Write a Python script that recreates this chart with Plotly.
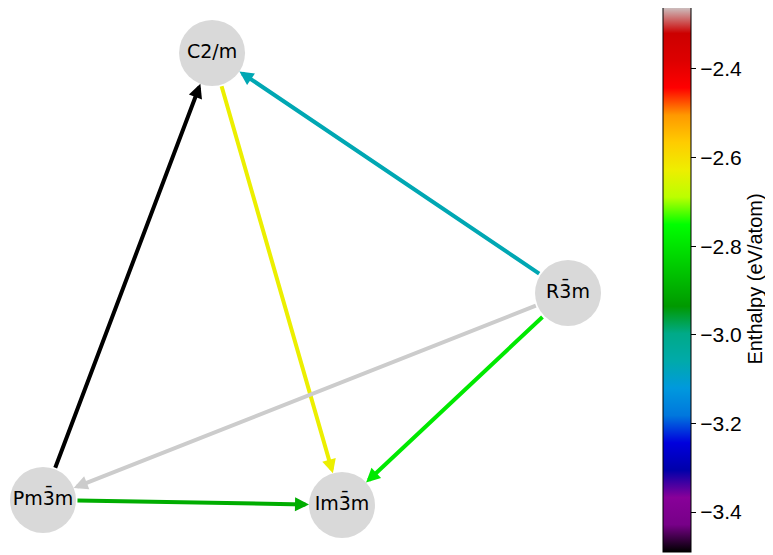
import plotly.graph_objects as go

# node layout (spring-layout style coordinates)
node_names = ["C2/m", "R3̄m", "Pm3̄m", "Im3̄m"]
node_x = [-0.356, 1.0, -1.0, 0.139]
node_y = [1.0, -0.062, -0.978, -1.0]

# directed edges and their enthalpies (eV/atom)
edge_src = ["Pm3̄m", "C2/m", "R3̄m", "R3̄m", "R3̄m", "Pm3̄m"]
edge_dst = ["C2/m", "Im3̄m", "C2/m", "Pm3̄m", "Im3̄m", "Im3̄m"]
edge_enthalpy = [-3.49, -2.63, -3.07, -2.258, -2.79, -2.90]

cbar_ticks = [-2.4, -2.6, -2.8, -3.0, -3.2, -3.4]

# matplotlib nipy_spectral segment data
stops = [i * 0.05 for i in range(21)]
reds = [0.0, 0.4667, 0.5333, 0.0, 0.0, 0.0, 0.0, 0.0, 0.0, 0.0, 0.0,
        0.0, 0.0, 0.7333, 0.9333, 1.0, 1.0, 1.0, 0.8667, 0.80, 0.80]
greens = [0.0, 0.0, 0.0, 0.0, 0.0, 0.4667, 0.6, 0.6667, 0.6667, 0.6, 0.7333,
          0.8667, 1.0, 1.0, 0.9333, 0.8, 0.6, 0.0, 0.0, 0.0, 0.80]
blues = [0.0, 0.5333, 0.6, 0.6667, 0.8667, 0.8667, 0.8667, 0.6667, 0.5333, 0.0, 0.0,
         0.0, 0.0, 0.0, 0.0, 0.0, 0.0, 0.0, 0.0, 0.0, 0.80]

def rgb(r, g, b):
    return "rgb(%d,%d,%d)" % (round(r * 255), round(g * 255), round(b * 255))

colorscale = [[s, rgb(r, g, b)] for s, r, g, b in zip(stops, reds, greens, blues)]

vmin, vmax = min(edge_enthalpy), max(edge_enthalpy)

def cmap(v):
    t = (v - vmin) / (vmax - vmin)
    t = min(max(t, 0.0), 1.0)
    for i in range(len(stops) - 1):
        if stops[i] <= t <= stops[i + 1]:
            f = (t - stops[i]) / (stops[i + 1] - stops[i])
            return rgb(*[c[i] + f * (c[i + 1] - c[i]) for c in (reds, greens, blues)])
    return rgb(reds[-1], greens[-1], blues[-1])

idx = {n: i for i, n in enumerate(node_names)}

fig = go.Figure()

# node circles
fig.add_trace(go.Scatter(
    x=node_x, y=node_y, mode="markers+text",
    text=node_names, textposition="middle center",
    textfont=dict(family="DejaVu Sans", size=19, color="black"),
    marker=dict(size=66, color="#d9d9d9", line=dict(width=0)),
    hoverinfo="text", showlegend=False))

# invisible trace carrying the colorbar
fig.add_trace(go.Scatter(
    x=[node_x[0]], y=[node_y[0]], mode="markers", hoverinfo="skip", showlegend=False,
    marker=dict(size=1, opacity=0, color=[vmin], cmin=vmin, cmax=vmax,
                colorscale=colorscale, showscale=True,
                colorbar=dict(
                    thickness=28, len=546, lenmode="pixels",
                    x=655 / 773, xanchor="left", xpad=0,
                    y=0.5117, yanchor="middle", ypad=0,
                    outlinewidth=1, outlinecolor="black",
                    tickvals=cbar_ticks, tickformat=".1f",
                    ticks="outside", ticklen=5, tickcolor="black",
                    tickfont=dict(family="Liberation Sans, Arial", size=21, color="black"),
                    title=dict(text="Enthalpy (eV/atom)", side="right",
                               font=dict(family="Liberation Sans, Arial", size=20, color="black"))))))

for s, d, h in zip(edge_src, edge_dst, edge_enthalpy):
    i, j = idx[s], idx[d]
    fig.add_annotation(
        x=node_x[j], y=node_y[j], ax=node_x[i], ay=node_y[i],
        xref="x", yref="y", axref="x", ayref="y",
        showarrow=True, arrowhead=2, arrowsize=0.7, arrowwidth=4,
        arrowcolor=cmap(h), standoff=33, startstandoff=33, text="")

fig.update_layout(
    width=773, height=555,
    margin=dict(l=0, r=0, t=0, b=0),
    plot_bgcolor="white", paper_bgcolor="white",
    xaxis=dict(domain=[0, 612 / 773], range=[-1.1333, 1.198], visible=False),
    yaxis=dict(domain=[0, 1], range=[-1.2566, 1.1991], visible=False),
)

fig.write_html("out.html")
